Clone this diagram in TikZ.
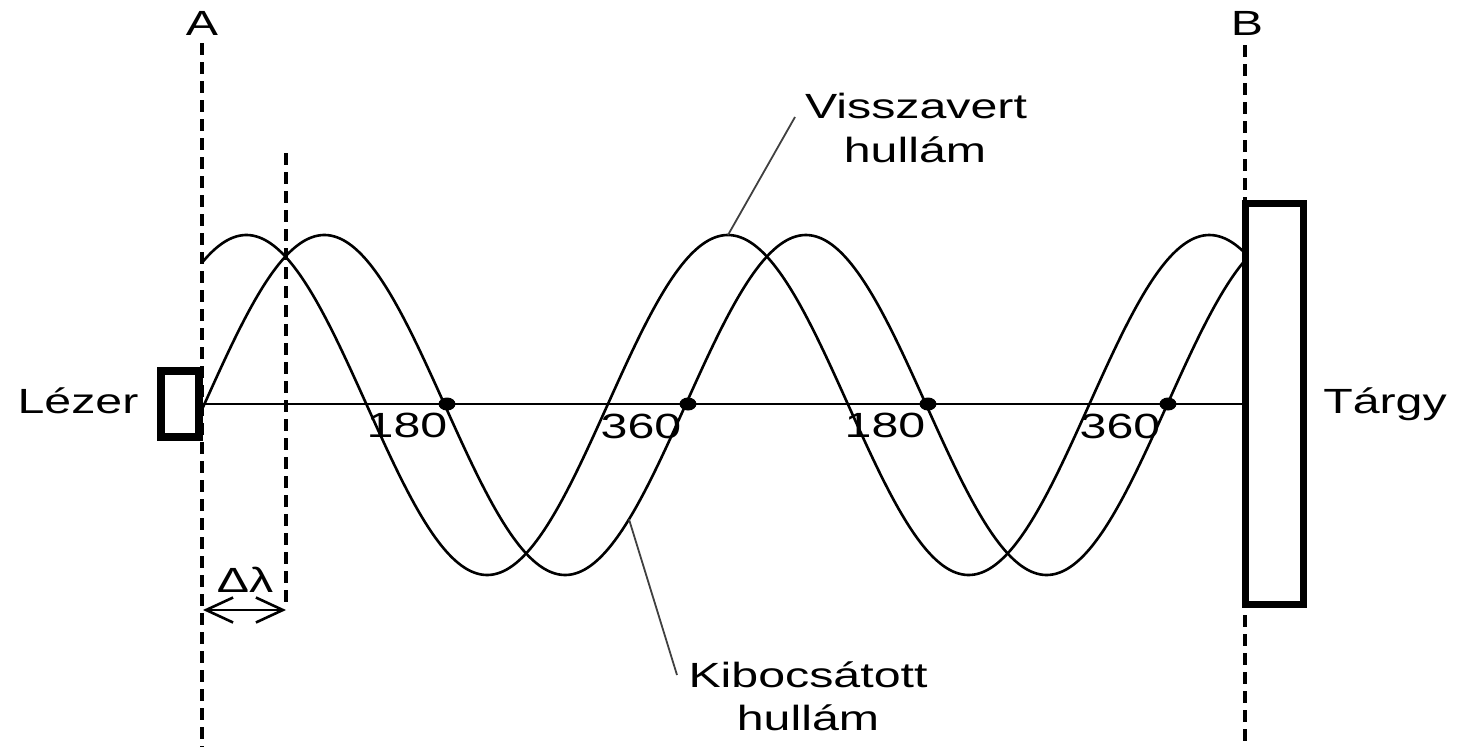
\documentclass[tikz,border=0pt]{standalone}
\usepackage{fontspec}
\setmainfont{Liberation Sans}
\usetikzlibrary{arrows.meta,shapes.geometric}
\newcommand\sx[1]{\scalebox{1.38}[1]{#1}}
\begin{document}
\begin{tikzpicture}[x=1pt,y=-1pt,
  lbl/.style={inner sep=0pt, anchor=base, font=\fontsize{35}{42}\selectfont},
  guide/.style={line width=3.5pt, dash pattern=on 12pt off 7pt},
  wave/.style={line width=2.6pt},
  pointer/.style={line width=1.8pt, draw=black!75},
  dotmark/.style={ellipse, fill=black, inner sep=0pt, minimum width=17pt, minimum height=13pt},
  boxmark/.style={draw, fill=white, line width=7.5pt, inner sep=0pt, outer sep=0pt},
  barb/.tip={Straight Barb[length=27pt,width=25pt]}]
\useasboundingbox (0,0) rectangle (1457,747);
% labels
\node[lbl] (A) at (202,35) {\sx{A}};
\node[lbl] (B) at (1247,35) {\sx{B}};
\node[lbl] (lezer) at (78,413) {\sx{Lézer}};
\node[lbl] (targy) at (1385,413) {\sx{Tárgy}};
\node[lbl] (n180a) at (407,437) {\sx{180}};
\node[lbl] (n360a) at (641,438) {\sx{360}};
\node[lbl] (n180b) at (885,437) {\sx{180}};
\node[lbl] (n360b) at (1120,438) {\sx{360}};
\node[lbl] (vis1) at (916,118) {\sx{Visszavert}};
\node[lbl] (vis2) at (915,162) {\sx{hullám}};
\node[lbl] (kib1) at (808,687) {\sx{Kibocsátott}};
\node[lbl] (kib2) at (808,730) {\sx{hullám}};
\node[lbl] (dl) at (245,592) {\sx{Δλ}};
% guide lines
\coordinate (Atop) at (202,43);
\coordinate (Abot) at (202,747);
\coordinate (Btop) at (1245,45);
\coordinate (Bbot) at (1245,747);
\coordinate (Ctop) at (286,153);
\coordinate (Cbot) at (286,607);
\draw[guide] (Atop) -- (Abot);
\draw[guide] (Btop) -- (Bbot);
\draw[guide] (Ctop) -- (Cbot);
% boxes
\node[boxmark, minimum width=38pt, minimum height=66pt] (laser) at (180,404) {};
\node[boxmark, minimum width=58pt, minimum height=401pt] (target) at (1274.5,404) {};
% axis
\coordinate (axL) at (203,404);
\coordinate (axR) at (1242,404);
\draw[line width=2.6pt] (axL) -- (axR);
% waves
\draw[wave] plot[domain=203:1243, samples=400] (\x, {405-170*sin(360*((\x-204)/481.5))});
\draw[wave] plot[domain=203:1243, samples=400] (\x, {405-170*sin(360*((\x-126)/481.5))});
% dots
\node[dotmark] (d1) at (447,404) {};
\node[dotmark] (d2) at (688,404) {};
\node[dotmark] (d3) at (928,404) {};
\node[dotmark] (d4) at (1168,404) {};
% pointers
\coordinate (vtip) at (795,117);
\coordinate (vpk) at (728,235);
\draw[pointer] (vtip) -- (vpk);
\coordinate (ktip) at (677,675);
\coordinate (kw) at (629,{405-170*sin(360*((629-204)/481.5))});
\draw[pointer] (ktip) -- (kw);
% delta lambda arrow
\coordinate (dlL) at (203,610);
\coordinate (dlR) at (286,610);
\draw[line width=2.6pt, barb-barb] (dlL) -- (dlR);
\end{tikzpicture}
\end{document}
